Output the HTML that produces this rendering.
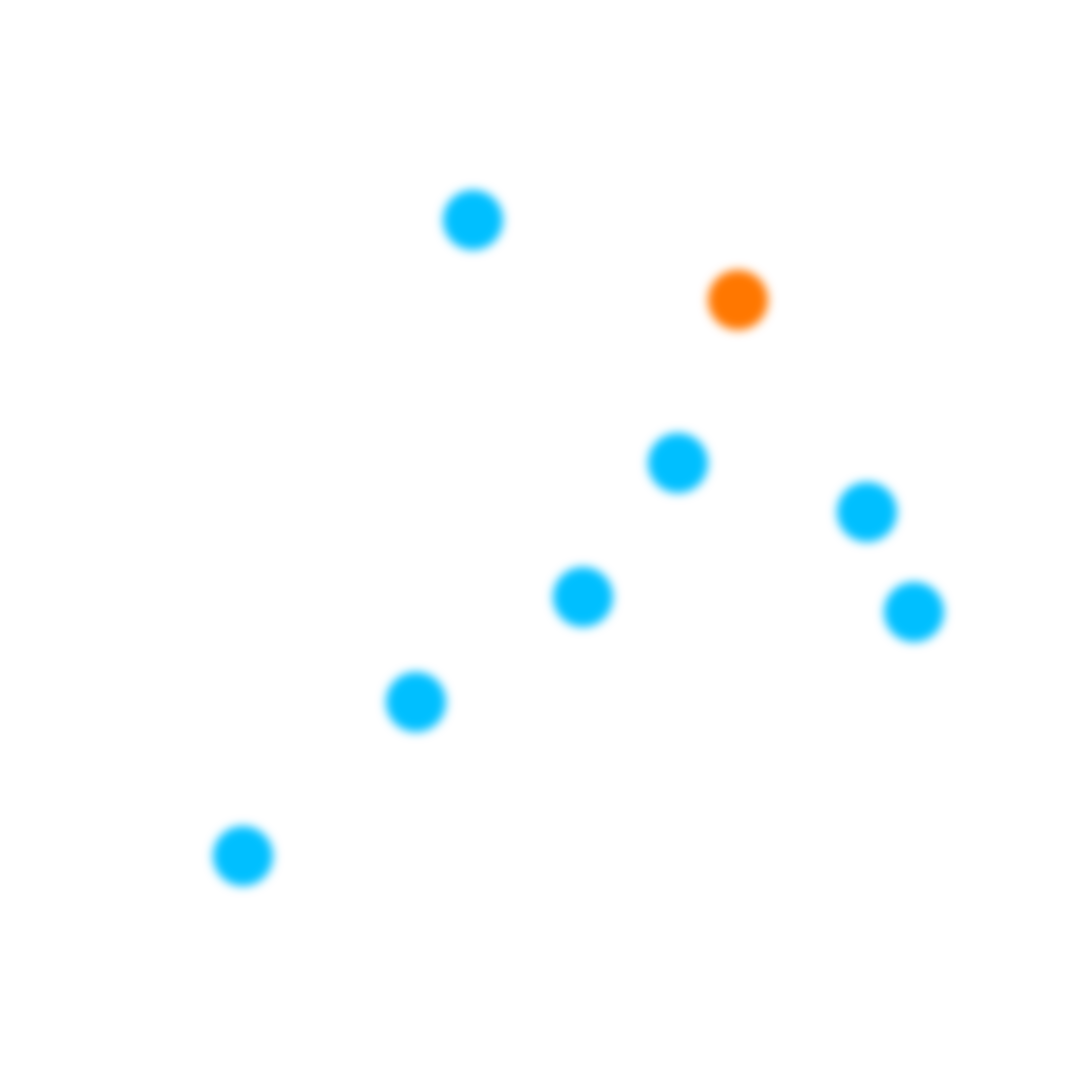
<!DOCTYPE html>
<html><head><style>html,body{margin:0;padding:0;background:#fff;}svg{display:block}</style></head>
<body>
<svg width="1080" height="1080" viewBox="0 0 1080 1080" xmlns="http://www.w3.org/2000/svg">
<defs><filter id="b" x="-50%" y="-50%" width="200%" height="200%"><feGaussianBlur stdDeviation="5"/></filter></defs>
<rect width="1080" height="1080" fill="#fff"/>
<g filter="url(#b)">
<circle cx="473" cy="220" r="30" fill="#00BFFF"/>
<circle cx="738" cy="300" r="30" fill="#FF7700"/>
<circle cx="678" cy="463" r="30" fill="#00BFFF"/>
<circle cx="867" cy="512" r="30" fill="#00BFFF"/>
<circle cx="583" cy="597" r="30" fill="#00BFFF"/>
<circle cx="914" cy="612" r="30" fill="#00BFFF"/>
<circle cx="416" cy="702" r="30" fill="#00BFFF"/>
<circle cx="243" cy="856" r="30" fill="#00BFFF"/>
</g>
</svg>
</body></html>
